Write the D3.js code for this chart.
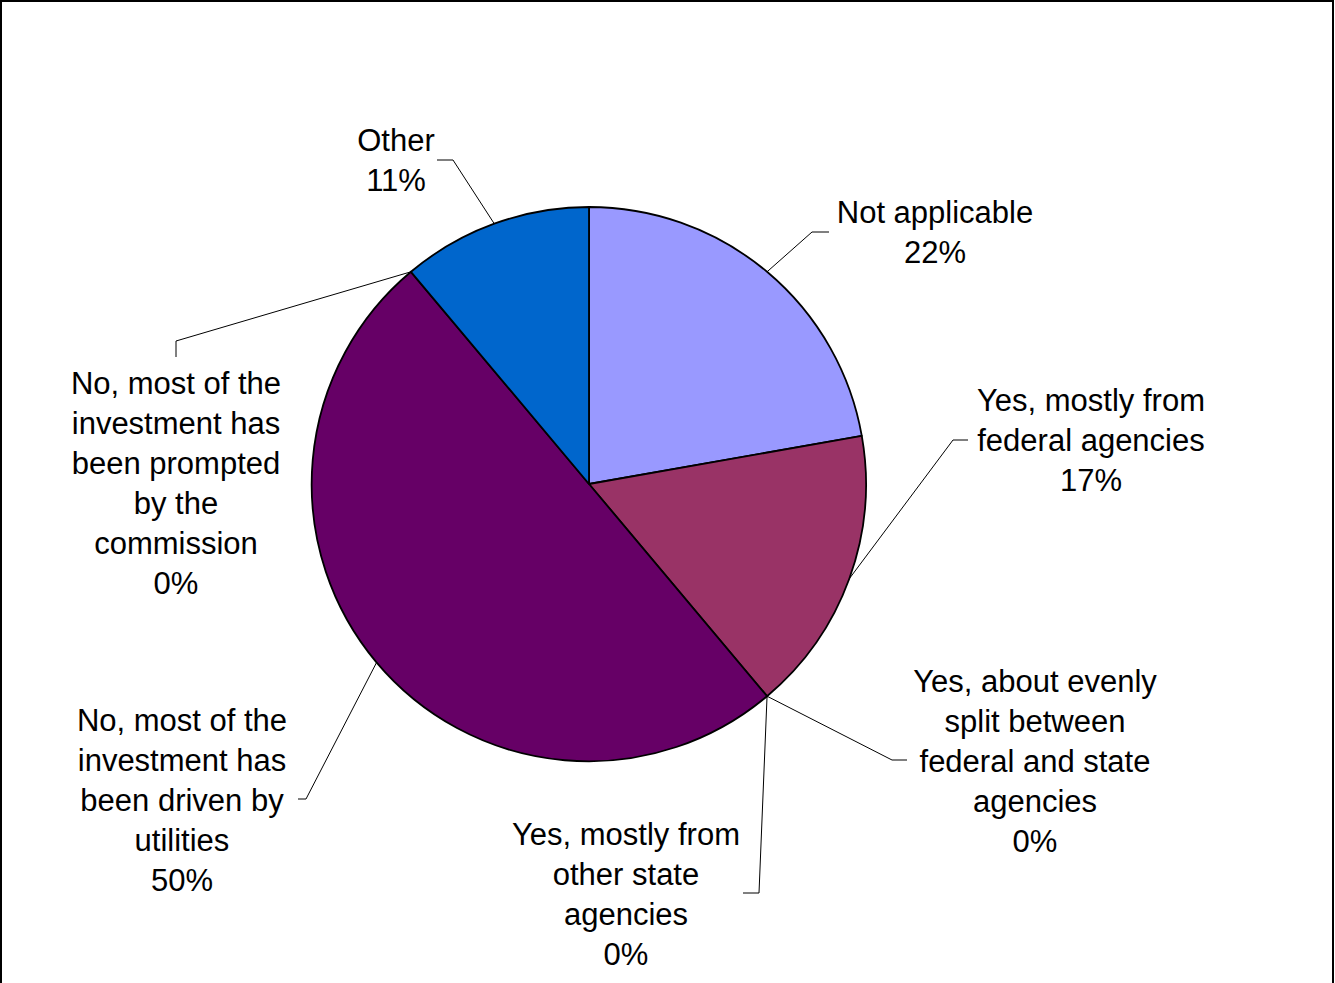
<!DOCTYPE html>
<html>
<head>
<meta charset="utf-8">
<script src="https://cdn.jsdelivr.net/npm/d3@7/dist/d3.min.js"></script>
<style>
  html, body { margin: 0; padding: 0; background: #fff; }
  svg { display: block; }
  text { font-family: "Liberation Sans", Arial, sans-serif; font-size: 31px; fill: #000; }
</style>
</head>
<body>
<svg id="chart" width="1335" height="983"></svg>
<script>
// ---- data ----
const categories = [
  "Not applicable",
  "Yes, mostly from federal agencies",
  "Yes, about evenly split between federal and state agencies",
  "Yes, mostly from other state agencies",
  "No, most of the investment has been driven by utilities",
  "No, most of the investment has been prompted by the commission",
  "Other"
];
const labelLines = [
  ["Not applicable"],
  ["Yes, mostly from", "federal agencies"],
  ["Yes, about evenly", "split between", "federal and state", "agencies"],
  ["Yes, mostly from", "other state", "agencies"],
  ["No, most of the", "investment has", "been driven by", "utilities"],
  ["No, most of the", "investment has", "been prompted", "by the", "commission"],
  ["Other"]
];
const counts = [4, 3, 0, 0, 9, 0, 2];
const colors = ["#9999FF", "#993366", "#993366", "#993366", "#660066", "#660066", "#0066CC"];

// ---- layout (label positions: center x, first baseline, leader elbow points) ----
const labelLayout = [
  { x: 935,  y: 223, elbow: [[812, 232], [829, 232]] },
  { x: 1091, y: 411, elbow: [[953, 440], [968, 440]] },
  { x: 1035, y: 692, elbow: [[892, 760], [907, 760]] },
  { x: 626,  y: 845, elbow: [[759, 893], [743, 893]] },
  { x: 182,  y: 731, elbow: [[306, 799], [298, 799]] },
  { x: 176,  y: 394, elbow: [[176, 341], [176, 357]] },
  { x: 396,  y: 151, elbow: [[453, 160], [437, 160]] }
];

const W = 1335, H = 983;
const cx = 589, cy = 484, R = 277;
const lineH = 40;

const svg = d3.select("#chart");

// outer frame
svg.append("rect")
  .attr("x", 1).attr("y", 1)
  .attr("width", W - 3).attr("height", H + 10)
  .attr("fill", "none").attr("stroke", "#000").attr("stroke-width", 2);

const total = d3.sum(counts);
const pie = d3.pie().sort(null).value(d => d)(counts);
const arc = d3.arc().innerRadius(0).outerRadius(R);

const g = svg.append("g").attr("transform", `translate(${cx},${cy})`);

g.selectAll("path.slice")
  .data(pie)
  .join("path")
  .attr("class", "slice")
  .attr("d", arc)
  .attr("fill", (d, i) => colors[i])
  .attr("stroke", d => d.value > 0 ? "#000" : "none")
  .attr("stroke-width", 1.8)
  .attr("stroke-linejoin", "round");

const fmt = d3.format(".0%");

// leader lines
pie.forEach((d, i) => {
  const a = (d.startAngle + d.endAngle) / 2;
  const px = cx + R * Math.sin(a), py = cy - R * Math.cos(a);
  const L = labelLayout[i];
  const pts = [[px, py], ...L.elbow];
  svg.append("path")
    .attr("d", d3.line()(pts))
    .attr("fill", "none")
    .attr("stroke", "#000")
    .attr("stroke-width", 1);
});

// labels
pie.forEach((d, i) => {
  const L = labelLayout[i];
  const lines = [...labelLines[i], fmt(d.value / total)];
  const t = svg.append("text")
    .attr("text-anchor", "middle");
  lines.forEach((s, k) => {
    t.append("tspan")
      .attr("x", L.x)
      .attr("y", L.y + k * lineH)
      .text(s);
  });
});
</script>
</body>
</html>
